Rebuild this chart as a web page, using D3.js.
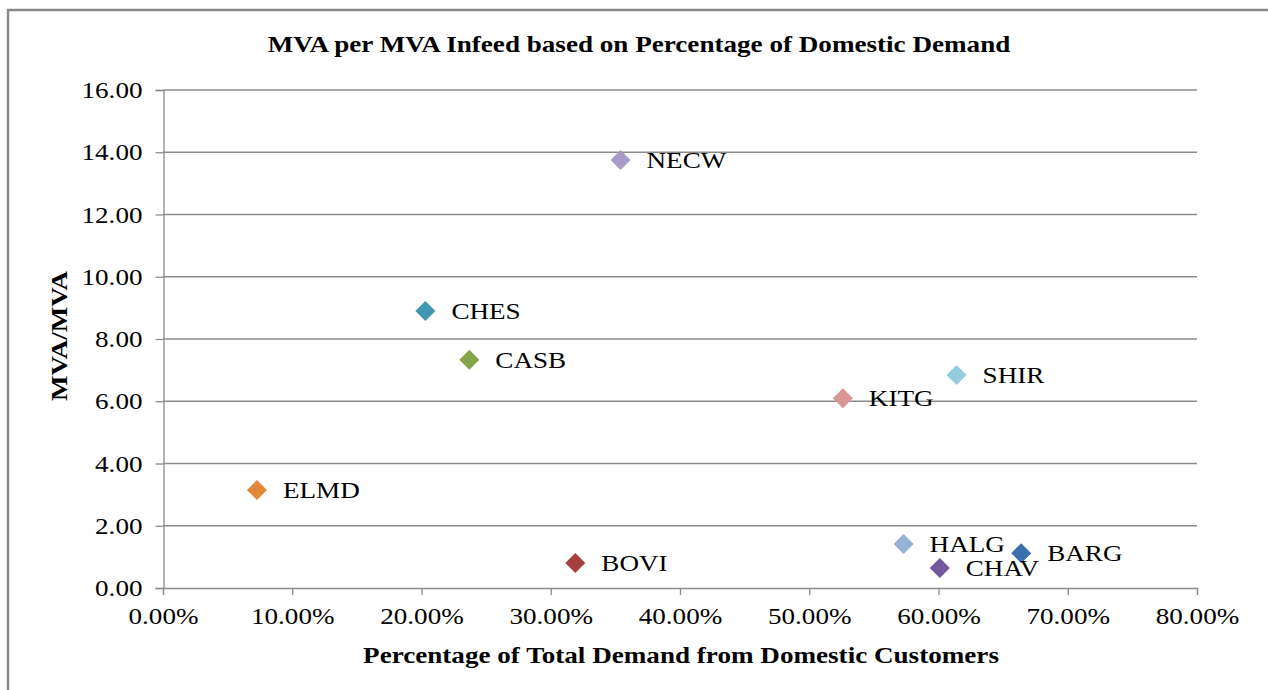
<!DOCTYPE html>
<html><head><meta charset="utf-8">
<script src="https://cdn.jsdelivr.net/npm/d3@7"></script>
<style>html,body{margin:0;padding:0;background:#fff;}svg{display:block;}</style>
</head><body>
<svg id="c" width="1268" height="690"></svg>
<script>
const names = ["NECW","CHES","CASB","KITG","SHIR","ELMD","BOVI","HALG","CHAV","BARG"];
const pctDomestic = [0.354,0.203,0.237,0.526,0.614,0.0727,0.319,0.573,0.601,0.664];
const mvaRatio = [13.75,8.90,7.33,6.10,6.84,3.15,0.80,1.41,0.64,1.12];
const colors = ["#A99BC7","#4198AF","#86A44A","#D99694","#93CDDD","#E0873A","#A5403F","#95B3D7","#71589A","#3A70AB"];
const xTicks = [0,0.1,0.2,0.3,0.4,0.5,0.6,0.7,0.8];
const yTicks = [0,2,4,6,8,10,12,14,16];

const SX = 1.13;
const svg = d3.select("#c");
const font = "'Liberation Serif','Times New Roman',serif";
svg.append("rect").attr("x",8).attr("y",10).attr("width",1320).attr("height",720)
  .attr("fill","#fff").attr("stroke","#8a8a8a").attr("stroke-width",2.5);

const x = d3.scaleLinear().domain([0,0.8]).range([163,1197]);
const y = d3.scaleLinear().domain([0,16]).range([588,90]);

svg.append("g").selectAll("line").data(yTicks.filter(d=>d>0)).join("line")
  .attr("x1",163).attr("x2",1197).attr("y1",d=>y(d)).attr("y2",d=>y(d))
  .attr("stroke","#8c8c8c").attr("stroke-width",1.3);

const ya = svg.append("g").attr("transform","translate(163.5,0)")
  .call(d3.axisLeft(y).tickValues(yTicks).tickFormat(d3.format(".2f")).tickSize(8).tickPadding(14));
const xa = svg.append("g").attr("transform","translate(0,588)")
  .call(d3.axisBottom(x).tickValues(xTicks).tickFormat(d3.format(".2%")).tickSize(7).tickPadding(7));
[ya,xa].forEach(a=>{
  a.selectAll("path,line").attr("stroke","#8c8c8c").attr("stroke-width",1.3);
  a.selectAll("text").attr("font-family",font).attr("font-size","24px").attr("fill","#000")
    .attr("transform",`scale(${SX},1)`);
});
ya.selectAll("text").attr("x",-21/SX);
xa.selectAll("text").attr("dy","0.9em");

function label(tx,ty,rot,txt,bold){
  svg.append("text").attr("transform",`translate(${tx},${ty}) rotate(${rot}) scale(${SX},1)`)
    .attr("text-anchor","middle").attr("font-family",font).attr("font-weight",bold?"bold":"normal")
    .attr("font-size","24px").attr("fill","#000").text(txt);
}
label(639,52,0,"MVA per MVA Infeed based on Percentage of Domestic Demand",true);
label(681,663,0,"Percentage of Total Demand from Domestic Customers",true);
label(67,336,-90,"MVA/MVA",true);

const pts = names.map((n,i)=>({n, x:pctDomestic[i], y:mvaRatio[i], c:colors[i]}));
const g = svg.append("g");
g.selectAll("path").data(pts).join("path")
  .attr("d",d3.symbol().type(d3.symbolSquare).size(200))
  .attr("transform",d=>`translate(${x(d.x)},${y(d.y)}) rotate(45)`)
  .attr("fill",d=>d.c);
g.selectAll("text").data(pts).join("text")
  .attr("transform",d=>`translate(${x(d.x)+26},${y(d.y)+8}) scale(${SX},1)`)
  .attr("font-family",font).attr("font-size","24px").attr("fill","#000")
  .text(d=>d.n);
</script>
</body></html>
